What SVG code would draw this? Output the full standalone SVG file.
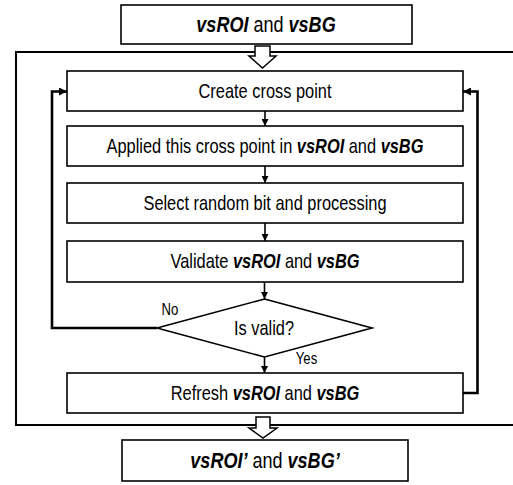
<svg xmlns="http://www.w3.org/2000/svg" width="513" height="485" viewBox="0 0 513 485">
  <style>
    .box { fill: #ffffff; stroke: #000000; stroke-width: 1.6; }
    .frame { fill: none; stroke: #000000; stroke-width: 2; }
    .big { fill: #ffffff; stroke: #000000; stroke-width: 1.5; }
    .flow { fill: none; stroke: #000000; stroke-width: 1.6; }
    .loop { fill: none; stroke: #000000; stroke-width: 2.6; }
    text { font-family: "Liberation Sans", Arial, sans-serif; fill: #000000; text-anchor: middle; }
    .lbl { font-size: 20px; }
    .hdr { font-size: 22px; }
    .yn { font-size: 16px; }
    .v { font-weight: bold; font-style: italic; }
  </style>
  <defs>
    <marker id="tip" viewBox="0 0 10 10" refX="10" refY="5" markerWidth="7" markerHeight="7" markerUnits="userSpaceOnUse" orient="auto">
      <path d="M0,0 L10,5 L0,10 Z" fill="#000000"/>
    </marker>
    <marker id="tipL" viewBox="0 0 10 10" refX="10" refY="5" markerWidth="8" markerHeight="8" markerUnits="userSpaceOnUse" orient="auto">
      <path d="M0,0 L10,5 L0,10 Z" fill="#000000"/>
    </marker>
  </defs>

  <!-- process frame -->
  <rect class="frame" x="16" y="52" width="510" height="373"/>

  <!-- input -->
  <g id="input">
    <rect class="box" x="121" y="5" width="291" height="39"/>
    <text class="hdr" transform="translate(266,32) scale(0.82,1)"><tspan class="v">vsROI</tspan> and <tspan class="v">vsBG</tspan></text>
  </g>

  <g id="create">
    <rect class="box" x="67" y="71" width="396" height="40"/>
    <text class="lbl" transform="translate(265,98) scale(0.82,1)">Create cross point</text>
  </g>

  <g id="apply">
    <rect class="box" x="67" y="126" width="396" height="40"/>
    <text class="lbl" transform="translate(265,153) scale(0.82,1)">Applied this cross point in <tspan class="v">vsROI</tspan> and <tspan class="v">vsBG</tspan></text>
  </g>

  <g id="select">
    <rect class="box" x="67" y="183" width="396" height="40"/>
    <text class="lbl" transform="translate(265,210) scale(0.82,1)">Select random bit and processing</text>
  </g>

  <g id="validate">
    <rect class="box" x="67" y="241" width="396" height="41"/>
    <text class="lbl" transform="translate(265,268) scale(0.82,1)">Validate <tspan class="v">vsROI</tspan> and <tspan class="v">vsBG</tspan></text>
  </g>

  <g id="decision">
    <polygon class="box" points="264.5,299 372,328 264.5,357 157,328"/>
    <text class="lbl" transform="translate(264,335) scale(0.82,1)">Is valid?</text>
  </g>

  <g id="refresh">
    <rect class="box" x="67" y="373" width="396" height="40"/>
    <text class="lbl" transform="translate(265,400) scale(0.82,1)">Refresh <tspan class="v">vsROI</tspan> and <tspan class="v">vsBG</tspan></text>
  </g>

  <!-- output -->
  <g id="output">
    <rect class="box" x="122" y="440" width="286" height="41"/>
    <text class="hdr" transform="translate(265,468) scale(0.82,1)"><tspan class="v">vsROI’</tspan> and <tspan class="v">vsBG’</tspan></text>
  </g>

  <g id="connectors">
    <!-- hollow block arrows into and out of the frame -->
    <path class="big" d="M255,46 H270 V56 H276 L262.5,68 L249,56 H255 Z"/>
    <path class="big" d="M256,417 H270 V428 H277 L263,438 L249,428 H256 Z"/>

    <!-- straight flow -->
    <line class="flow" x1="265" y1="111" x2="265" y2="126" marker-end="url(#tip)"/>
    <line class="flow" x1="265" y1="166" x2="265" y2="183" marker-end="url(#tip)"/>
    <line class="flow" x1="265" y1="223" x2="265" y2="241" marker-end="url(#tip)"/>
    <line class="flow" x1="264.5" y1="282" x2="264.5" y2="299" marker-end="url(#tip)"/>
    <line class="flow" x1="264.5" y1="357" x2="264.5" y2="373" marker-end="url(#tip)"/>

    <!-- retry loop (No) -->
    <polyline class="loop" points="157,328 52,328 52,91.5 67,91.5" marker-end="url(#tipL)"/>
    <!-- next round loop -->
    <polyline class="loop" points="463,393 477.5,393 477.5,91.5 463,91.5" marker-end="url(#tipL)"/>

    <text class="yn" transform="translate(170,315) scale(0.82,1)">No</text>
    <text class="yn" transform="translate(306.5,364) scale(0.82,1)">Yes</text>
  </g>
</svg>
